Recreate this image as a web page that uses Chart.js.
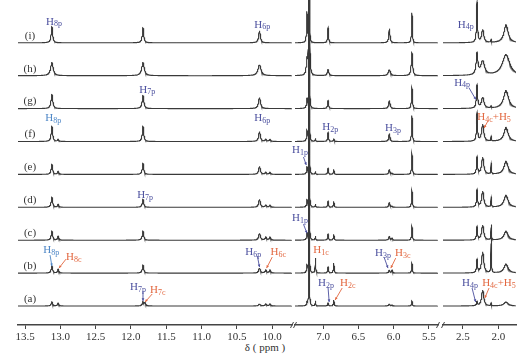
<!DOCTYPE html>
<html><head><meta charset="utf-8">
<script src="https://cdn.jsdelivr.net/npm/chart.js@4.4.1/dist/chart.umd.min.js"></script>
<style>
html,body{margin:0;padding:0;background:#fff;}
#wrap{position:relative;width:526px;height:361px;overflow:hidden;background:#fff;}
#wrap canvas{position:absolute;top:0;}
#xtitle{position:absolute;left:265px;top:341px;transform:translateX(-50%);font:11px 'Liberation Serif',serif;color:#333;white-space:nowrap;}
</style></head><body>
<div id="wrap"><div id="xtitle">δ ( ppm )</div></div>
<script>
// ---------- data ----------
const traceNames = ['(a)','(b)','(c)','(d)','(e)','(f)','(g)','(h)','(i)'];
// peak chemical shifts (ppm): H8p,H8c,H7p,H7c,H6p,H6c,H6c',H1p,CDCl3,H1c,H2p,H2c,H3p,H3c,5.74,H4p,H4c+H5,2.10,1.89
const peakShifts     = [13.12,13.03,11.83,11.80,10.18,10.09,10.03,7.23,7.20,7.11,6.93,6.85,6.06,6.02,5.74,2.30,2.22,2.10,1.89];
const peakHalfWidths = [0.012,0.010,0.012,0.012,0.014,0.012,0.012,0.006,0.0015,0.005,0.007,0.006,0.010,0.008,0.006,0.008,0.018,0.004,0.035];
const heightsA = [4,3,4,3,2,2,2,3,600,5,3,6,2,1,5,4,16,3,4];
const heightsB = [7,4,8,0,5,3,3,7,600,15,6,10,3,3,10,13,21,36,9];
const heightsC = [9,4,9,0,7,3,3,6,600,4,6,6,4,2,14,13,15,15,9];
const heightsD = [10,3,8,0,8,2,2,6,600,3,6,6,5,1,17,17,16,10,12];
const heightsE = [10,3,11,0,8,2,2,6,600,3,6,5,5,1,21,17,17,11,13];
const heightsF = [15,2,15,0,10,2,2,10,600,3,9,3,8,0,26,28,17,5,14];
const heightsG = [14,0,13,0,11,0,0,8,600,0,8,0,8,0,21,23,11,2,18];
const heightsH = [13,0,13,0,11,0,0,14,600,0,6,0,6,0,23,21,14,0,21];
const heightsI = [16,0,15,0,12,0,0,30,600,0,15,0,14,0,30,40,13,3,18];
const widthScale = [1,1,1,1,1,1,1.2,1.8,1];
const segmentRanges = [[9.72,13.6],[5.37,7.40],[1.75,2.78]];
const tickStep = 0.5;

// ---------- layout / style ----------
const heightsByTrace = [heightsA,heightsB,heightsC,heightsD,heightsE,heightsF,heightsG,heightsH,heightsI];
const PX_PER_PPM = 70.6, PAD = 20, AXIS_H = 36, CANVAS_H = 361;
const segLeft = [18, 295, 443];
const BASE0 = 19, SPACING = 32.9;
const LINE = '#3a3a3a';
const BLUE = '#4b4f9e', LBLUE = '#4d86c6', RED = '#e2673f';
const SERIF = "'Liberation Serif', 'Times New Roman', serif";
function base(k){ return BASE0 + SPACING*k; }

// annotations: seg, trace, ppm anchor, px above baseline, parts [text, isSub], colour, arrow [ppm1,up1,ppm2,up2]
const annotations = [
 {seg:0,t:8,ppm:13.09,up:22,p:[['H',0],['8p',1]],c:BLUE},
 {seg:0,t:8,ppm:10.14,up:19,p:[['H',0],['6p',1]],c:BLUE},
 {seg:2,t:8,ppm:2.46,up:19,p:[['H',0],['4p',1]],c:BLUE},
 {seg:0,t:6,ppm:11.77,up:20,p:[['H',0],['7p',1]],c:BLUE},
 {seg:2,t:6,ppm:2.51,up:27,p:[['H',0],['4p',1]],c:BLUE,a:[2.415,21,2.316,9]},
 {seg:2,t:5,ppm:2.06,up:25.5,p:[['H',0],['4c',1],['+',0],['H',0],['5',1]],c:RED,a:[2.146,20.5,2.20,13.5]},
 {seg:0,t:5,ppm:13.10,up:24.5,p:[['H',0],['8p',1]],c:LBLUE},
 {seg:0,t:5,ppm:10.14,up:24.5,p:[['H',0],['6p',1]],c:BLUE},
 {seg:1,t:5,ppm:6.90,up:15.5,p:[['H',0],['2p',1]],c:BLUE},
 {seg:1,t:5,ppm:6.01,up:14.5,p:[['H',0],['3p',1]],c:BLUE},
 {seg:1,t:4,ppm:7.33,up:25.4,p:[['H',0],['1p',1]],c:BLUE,a:[7.28,17.4,7.24,9.4]},
 {seg:0,t:3,ppm:11.80,up:13,p:[['H',0],['7p',1]],c:BLUE},
 {seg:1,t:2,ppm:7.33,up:23,p:[['H',0],['1p',1]],c:BLUE,a:[7.28,16,7.23,7]},
 {seg:0,t:1,ppm:13.13,up:24,p:[['H',0],['8p',1]],c:LBLUE,a:[13.146,18,13.12,7]},
 {seg:0,t:1,ppm:12.81,up:17,p:[['H',0],['8c',1]],c:RED,a:[12.92,14,13.02,5]},
 {seg:0,t:1,ppm:10.27,up:22,p:[['H',0],['6p',1]],c:BLUE,a:[10.21,17,10.18,6]},
 {seg:0,t:1,ppm:9.915,up:22,p:[['H',0],['6c',1]],c:RED,a:[10.0,16,10.08,5]},
 {seg:1,t:1,ppm:7.03,up:24,p:[['H',0],['1c',1]],c:RED},
 {seg:1,t:1,ppm:6.15,up:21,p:[['H',0],['3p',1]],c:BLUE,a:[6.136,16,6.08,5]},
 {seg:1,t:1,ppm:5.87,up:21,p:[['H',0],['3c',1]],c:RED,a:[5.97,15,6.04,5]},
 {seg:0,t:0,ppm:11.90,up:20,p:[['H',0],['7p',1]],c:BLUE,a:[11.83,15,11.83,5]},
 {seg:0,t:0,ppm:11.62,up:17,p:[['H',0],['7c',1]],c:RED,a:[11.70,12,11.80,4]},
 {seg:1,t:0,ppm:6.96,up:24,p:[['H',0],['2p',1]],c:BLUE,a:[6.93,18,6.915,4]},
 {seg:1,t:0,ppm:6.65,up:24,p:[['H',0],['2c',1]],c:RED,a:[6.73,18,6.83,6]},
 {seg:2,t:0,ppm:2.40,up:24,p:[['H',0],['4p',1]],c:BLUE,a:[2.37,18,2.32,4]},
 {seg:2,t:0,ppm:1.99,up:24,p:[['H',0],['4c',1],['+',0],['H',0],['5',1]],c:RED,a:[2.13,18,2.19,8]}
];

function lorentz(x,x0,w){ return w*w/(w*w+(x-x0)*(x-x0)); }
function traceData(k, seg){
  const [lo,hi] = segmentRanges[seg];
  const hs = heightsByTrace[k];
  const xs = [];
  for (let x=hi; x>=lo; x-=0.002) xs.push(x);
  peakShifts.forEach(p=>{ if(p>=lo && p<=hi) xs.push(p); });
  xs.sort((a,b)=>b-a);
  return xs.map(x=>{
    let y=0;
    for (let j=0;j<peakShifts.length;j++){
      const h=hs[j]; if(!h) continue;
      y += h*lorentz(x, peakShifts[j], peakHalfWidths[j]*widthScale[k]);
    }
    return {x, y: base(k)+y};
  });
}

function drawLabel(ctx, parts, cx, cy, color){
  const fMain = '11px '+SERIF, fSub = '8px '+SERIF;
  let w=0;
  parts.forEach(([s,sub])=>{ ctx.font = sub?fSub:fMain; w += ctx.measureText(s).width; });
  let x = cx - w/2;
  ctx.fillStyle = color; ctx.textBaseline = 'alphabetic'; ctx.textAlign='left';
  parts.forEach(([s,sub])=>{
    ctx.font = sub?fSub:fMain;
    ctx.fillText(s, x, cy + 4 + (sub?1.5:0));
    x += ctx.measureText(s).width;
  });
}

function makePlugin(seg){
  return {
    id:'annot'+seg,
    afterDatasetsDraw(chart){
      const ctx = chart.ctx, xs = chart.scales.x, ys = chart.scales.y;
      ctx.save();
      if (seg===0){
        ctx.fillStyle='#333'; ctx.font='11px '+SERIF; ctx.textAlign='center'; ctx.textBaseline='middle';
        traceNames.forEach((n,k)=>{
          ctx.fillText(n, xs.getPixelForValue(13.43), ys.getPixelForValue(base(k)+7));
        });
      }
      annotations.filter(a=>a.seg===seg).forEach(a=>{
        const cx = xs.getPixelForValue(a.ppm), cy = ys.getPixelForValue(base(a.t)+a.up);
        drawLabel(ctx, a.p, cx, cy, a.c);
        if (a.a){
          const x1=xs.getPixelForValue(a.a[0]), y1=ys.getPixelForValue(base(a.t)+a.a[1]);
          const x2=xs.getPixelForValue(a.a[2]), y2=ys.getPixelForValue(base(a.t)+a.a[3]);
          ctx.strokeStyle=a.c; ctx.lineWidth=0.9;
          ctx.beginPath(); ctx.moveTo(x1,y1); ctx.lineTo(x2,y2); ctx.stroke();
          const ang=Math.atan2(y2-y1,x2-x1), L=3;
          ctx.fillStyle=a.c; ctx.beginPath(); ctx.moveTo(x2,y2);
          ctx.lineTo(x2-L*Math.cos(ang-0.45), y2-L*Math.sin(ang-0.45));
          ctx.lineTo(x2-L*Math.cos(ang+0.45), y2-L*Math.sin(ang+0.45));
          ctx.closePath(); ctx.fill();
        }
      });
      const ay = chart.chartArea.bottom;
      ctx.strokeStyle='#444'; ctx.lineWidth=1;
      const ends = [];
      if (seg>0) ends.push(chart.chartArea.left);
      if (seg<2) ends.push(chart.chartArea.right);
      ends.forEach(x=>{ ctx.beginPath(); ctx.moveTo(x-1.5,ay+3); ctx.lineTo(x+1.5,ay-3); ctx.stroke(); });
      ctx.restore();
    }
  };
}

const wrap = document.getElementById('wrap');
segmentRanges.forEach(([lo,hi],seg)=>{
  const w = Math.round((hi-lo)*PX_PER_PPM);
  const cv = document.createElement('canvas');
  cv.width = w + 2*PAD; cv.height = CANVAS_H;
  cv.style.left = (segLeft[seg]-PAD)+'px';
  cv.style.width = cv.width+'px'; cv.style.height = CANVAS_H+'px';
  wrap.appendChild(cv);
  new Chart(cv, {
    type:'line',
    data:{ datasets: traceNames.map((n,k)=>({label:n, data:traceData(k,seg), borderColor:LINE, borderWidth:1.1, pointRadius:0, tension:0, fill:false})) },
    options:{
      responsive:false, animation:false, parsing:false, normalized:true, events:[],
      devicePixelRatio:1,
      layout:{padding:{left:PAD,right:PAD,top:0,bottom:0}},
      plugins:{legend:{display:false}, tooltip:{enabled:false}},
      scales:{
        x:{ type:'linear', reverse:true, min:lo, max:hi,
            afterFit(s){ s.height = AXIS_H; },
            afterBuildTicks(s){ s.ticks = s.ticks.filter(t=>{ const r=t.value/tickStep; return t.value>=lo-1e-9 && t.value<=hi+1e-9 && Math.abs(r-Math.round(r))<1e-6; }); },
            ticks:{ stepSize:tickStep, includeBounds:false, autoSkip:false, maxRotation:0, padding:2, color:'#333', font:{family:SERIF,size:11}, callback:v=>Number(v).toFixed(1) },
            grid:{ drawOnChartArea:false, drawTicks:true, tickLength:4, color:'#444' },
            border:{ display:true, color:'#444', width:1.4 } },
        y:{ type:'linear', display:false, min:0, max:325 }
      }
    },
    plugins:[makePlugin(seg)]
  });
});
</script>
</body></html>
